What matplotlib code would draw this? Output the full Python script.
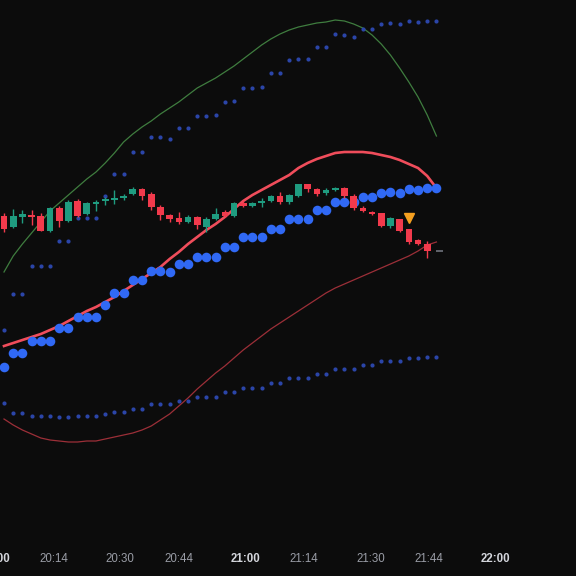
import numpy as np
import matplotlib.pyplot as plt

# candle data (bar index order, oldest first)
opens = [360.3, 348.7, 359.0, 361.3, 360.3, 345.0, 368.0, 355.0, 375.0, 362.0,
         372.0, 375.3, 376.0, 377.7, 382.0, 386.7, 381.7, 369.3, 360.7, 357.7,
         354.3, 358.7, 349.3, 357.0, 363.7, 360.3, 372.7, 370.3, 372.7, 375.3,
         379.7, 373.7, 380.3, 391.7, 387.0, 382.7, 386.0, 388.3, 380.0, 368.3,
         364.3, 362.7, 350.3, 356.7, 346.7, 336.0, 332.0, 325.3]
closes = [347.0, 360.3, 362.3, 359.5, 345.3, 368.0, 355.0, 374.3, 360.0, 373.0,
          374.3, 376.7, 378.3, 380.0, 387.0, 380.3, 369.3, 361.0, 356.7, 354.0,
          358.7, 351.0, 357.3, 362.0, 360.3, 372.7, 370.3, 373.3, 375.0, 379.7,
          373.7, 381.0, 391.7, 386.7, 382.0, 386.3, 388.3, 380.0, 367.7, 365.3,
          362.3, 350.3, 357.7, 345.0, 334.3, 332.0, 325.3, 325.3]
highs = [363.0, 367.0, 366.0, 366.0, 363.0, 369.0, 370.0, 376.0, 377.0, 374.0,
         376.0, 379.0, 386.0, 382.0, 389.0, 388.0, 384.3, 371.0, 362.0, 363.7,
         361.0, 360.0, 359.0, 368.0, 366.3, 374.0, 375.0, 374.0, 378.0, 381.0,
         384.3, 382.0, 392.5, 392.5, 388.0, 388.0, 389.3, 389.5, 381.7, 370.0,
         365.3, 363.5, 359.3, 357.5, 347.5, 337.0, 335.3, 325.3]
lows = [344.0, 348.0, 353.0, 351.0, 345.0, 344.0, 349.0, 354.0, 359.0, 361.0,
        365.0, 371.0, 372.0, 376.0, 381.0, 376.0, 366.0, 356.0, 354.0, 352.0,
        353.0, 347.0, 344.3, 356.0, 359.0, 359.0, 369.0, 369.5, 369.3, 374.5,
        372.0, 372.5, 379.5, 384.3, 380.3, 381.5, 385.0, 377.7, 366.0, 364.5,
        361.0, 349.5, 348.3, 344.0, 332.0, 331.0, 318.3, 325.3]

# trend dots (large) and channel dots (small)
trend = [209.3, 223.0, 223.0, 235.3, 235.3, 235.3, 247.7, 247.7, 258.7, 258.7,
         258.7, 271.0, 282.7, 282.7, 295.7, 295.7, 304.7, 304.7, 303.7, 311.7,
         311.7, 319.3, 319.3, 319.3, 329.3, 329.3, 338.7, 338.7, 338.7, 347.3,
         347.3, 356.7, 356.7, 356.7, 366.0, 366.0, 374.3, 374.3, 374.3, 378.7,
         378.7, 383.3, 384.3, 383.3, 386.7, 386.0, 387.7, 387.7]
upper_dots = [246.0, 281.7, 281.7, 310.3, 310.3, 310.3, 335.3, 335.3, 357.7, 357.7,
              357.7, 380.0, 402.0, 402.0, 423.7, 423.7, 438.7, 438.7, 436.7, 448.3,
              448.3, 460.3, 460.3, 461.0, 474.3, 475.3, 488.3, 488.3, 489.3, 502.7,
              503.3, 516.0, 516.7, 517.0, 529.3, 529.3, 541.7, 540.7, 539.0, 546.7,
              546.7, 552.0, 553.0, 552.0, 555.3, 553.7, 555.0, 555.0]
lower_dots = [172.7, 163.3, 163.3, 160.3, 160.3, 160.3, 159.3, 159.3, 160.3, 160.3,
              160.3, 162.0, 164.3, 164.3, 167.0, 167.0, 171.7, 171.7, 171.7, 175.0,
              175.0, 179.3, 179.3, 179.3, 183.7, 183.7, 187.7, 187.7, 187.7, 192.7,
              192.7, 197.7, 197.7, 197.7, 202.0, 202.0, 207.3, 206.7, 206.7, 211.0,
              211.0, 214.7, 215.3, 214.7, 217.7, 217.7, 219.3, 219.3]

# lines
basis = [230, 233, 236, 239, 242, 246, 250, 255, 260, 265, 269, 274, 279, 285, 291,
         297, 303, 309, 317, 324, 332, 339, 346, 352, 359, 367, 375, 381, 386, 391,
         396, 401, 408, 413, 417, 420, 423, 424, 424, 424, 423, 421, 419, 416, 412,
         408, 400, 388]
band_up = [304, 320, 332, 343, 354, 365, 373, 381, 389, 397, 404, 413, 423, 434, 442,
           449, 455, 462, 468, 474, 481, 488, 493, 498, 504, 510, 517, 524, 531, 537,
           542, 546, 549, 551, 553, 554, 556, 555, 552, 548, 541, 532, 521, 508, 494,
           479, 461, 440]
band_dn = [157, 151, 146, 142, 138, 136, 135, 134, 134, 135, 135, 137, 139, 141, 143,
           146, 150, 156, 162, 170, 178, 187, 195, 203, 210, 218, 226, 233, 240, 247,
           253, 259, 265, 271, 277, 283, 288, 292, 296, 300, 304, 308, 312, 316, 320,
           325, 331, 334]

sell_signals = [44]

time_labels = ["20:00", "20:14", "20:30", "20:44", "21:00", "21:14", "21:30", "21:44", "22:00"]
time_minutes = [0, 14, 30, 44, 60, 74, 90, 104, 120]
bold_labels = {"20:00", "21:00", "22:00"}

bg = "#0c0c0c"
up_col = "#1f9c80"
dn_col = "#f23a4c"

x = np.arange(len(opens))
o = np.array(opens); c = np.array(closes)
h = np.array(highs); l = np.array(lows)

fig = plt.figure(figsize=(5.76, 5.76), dpi=100, facecolor=bg)
ax = fig.add_axes([0, 0, 1, 1])
ax.set_facecolor(bg)

ax.plot(x, band_up, color="#3f7d3f", lw=0.9, zorder=2)
ax.plot(x, band_dn, color="#9c2f38", lw=0.9, zorder=2)
ax.plot(x, basis, color="#f04d5b", lw=1.9, zorder=2)

ax.scatter(x, upper_dots, s=9, color="#2b45a8", zorder=3, linewidths=0)
ax.scatter(x, lower_dots, s=9, color="#2b45a8", zorder=3, linewidths=0)
ax.scatter(x, trend, s=48, color="#3069f5", zorder=3, linewidths=0)

colors = np.where(c > o, up_col, np.where(c < o, dn_col, "#6f737c"))
ax.vlines(x, l, h, colors=colors, lw=1.0, zorder=4)
body_h = np.maximum(np.abs(c - o), 1.0)
flat = c == o
ax.bar(x[~flat], body_h[~flat], bottom=np.minimum(o, c)[~flat], width=0.72,
       color=colors[~flat], zorder=5, linewidth=0)
ax.hlines(c[flat], x[flat] - 0.05, x[flat] + 0.75, colors=colors[flat], lw=1.2, zorder=5)

for i in sell_signals:
    ax.plot(i, h[i] + 11, marker="v", color="#f5a020", markersize=7.5, zorder=6, lw=0)

ax.set_xlim(-0.435, 62.17)
ax.set_ylim(0, 576)
ax.set_axis_off()

# time axis labels (minutes -> bar position)
for lab, m in zip(time_labels, time_minutes):
    pos = (m - 2.158) / 2.206
    bold = lab in bold_labels
    ax.text(pos, 0.03, lab, transform=ax.get_xaxis_transform(), ha="center", va="center",
            fontsize=8.3, family="Liberation Sans",
            fontweight="bold" if bold else "normal",
            color="#d4d6dc" if bold else "#9a9da6")

fig.savefig("out.png", dpi=100, facecolor=bg)
